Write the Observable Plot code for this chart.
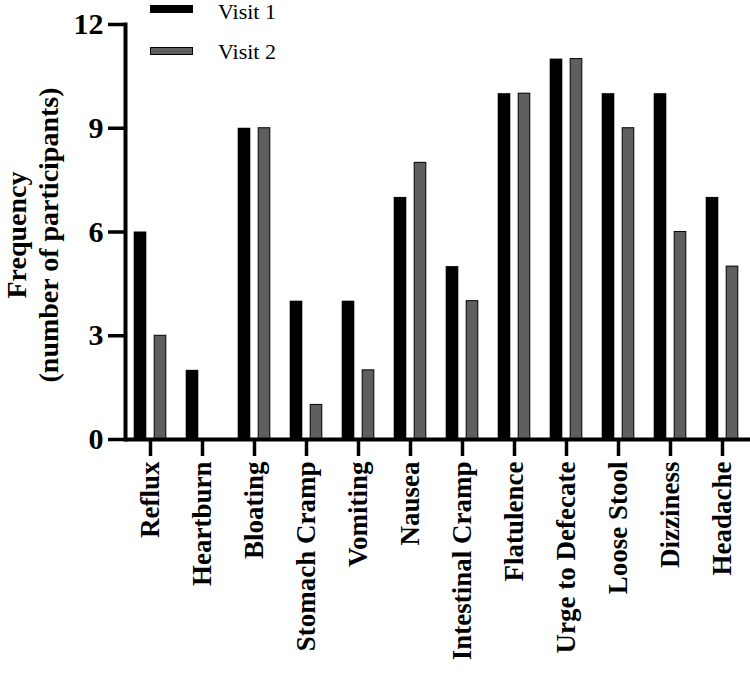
<!DOCTYPE html>
<html>
<head>
<meta charset="utf-8">
<script src="https://cdn.jsdelivr.net/npm/d3@7"></script>
<script src="https://cdn.jsdelivr.net/npm/@observablehq/plot@0.6"></script>
<style>
  html, body { margin: 0; padding: 0; background: white; }
  #wrap { position: relative; width: 750px; height: 673px; }
  .leg { position: absolute; font-family: "Liberation Serif", serif; font-size: 22px; color: #000; line-height: 1.2; white-space: nowrap; }
  .sw { position: absolute; box-sizing: border-box; }
</style>
</head>
<body>
<div id="wrap"></div>
<script>
const categories = ["Reflux", "Heartburn", "Bloating", "Stomach Cramp", "Vomiting", "Nausea",
  "Intestinal Cramp", "Flatulence", "Urge to Defecate", "Loose Stool", "Dizziness", "Headache"];
const visit1 = [6, 2, 9, 4, 4, 7, 5, 10, 11, 10, 10, 7];
const visit2 = [3, 0, 9, 1, 2, 8, 4, 10, 11, 9, 6, 5];
const seriesNames = ["Visit 1", "Visit 2"];
const yTicks = [0, 3, 6, 9, 12];
const yTitle = "Frequency\n(number of participants)";

const rows1 = categories.map((c, i) => ({category: c, value: visit1[i]}));
const rows2 = categories.map((c, i) => ({category: c, value: visit2[i]}));

const FONT = "Liberation Serif, Times New Roman, serif";
const GRAY = "#5f5f5f";

const chart = Plot.plot({
  width: 750,
  height: 673,
  marginLeft: 125,
  marginRight: 0,
  marginTop: 24,
  marginBottom: 234,
  style: {fontFamily: FONT, background: "white"},
  x: {domain: categories, range: [122.1, 750.3], padding: 0, axis: null},
  y: {domain: [0, 12], axis: null},
  marks: [
    Plot.barY(rows1, {x: "category", y: "value", fill: "black", dx: -10, insetLeft: 19.7, insetRight: 19.7}),
    Plot.barY(rows2, {x: "category", y: "value", fill: GRAY, stroke: "black", strokeWidth: 1, dx: 10, insetLeft: 20.2, insetRight: 20.2}),
    Plot.ruleY([0], {stroke: "black", strokeWidth: 4}),
    Plot.frame({anchor: "left", stroke: "black", strokeWidth: 4}),
    Plot.axisY({ticks: yTicks, tickSize: 17, tickPadding: 5, fontSize: 30, fontWeight: "bold", strokeWidth: 3.5, label: null, tickFormat: d => String(d)}),
    Plot.axisX({tickSize: 17, tickPadding: 5, tickRotate: -90, fontSize: 27, fontWeight: "bold", strokeWidth: 3.5, label: null}),
    Plot.text([yTitle], {frameAnchor: "left", rotate: -90, dx: -94, dy: 3, fontSize: 28, fontWeight: "bold", lineHeight: 1.14, textAnchor: "middle", fill: "black"})
  ]
});

const wrap = document.getElementById("wrap");
wrap.appendChild(chart);

// legend overlay
const legendItems = [
  {name: seriesNames[0], fill: "black", border: "none", top: 5, h: 8, textTop: -1},
  {name: seriesNames[1], fill: GRAY, border: "1px solid black", top: 47, h: 8, textTop: 39}
];
legendItems.forEach(it => {
  const sw = document.createElement("div");
  sw.className = "sw";
  sw.style.left = "150px";
  sw.style.top = it.top + "px";
  sw.style.width = "43px";
  sw.style.height = it.h + "px";
  sw.style.background = it.fill;
  sw.style.border = it.border;
  wrap.appendChild(sw);
  const t = document.createElement("div");
  t.className = "leg";
  t.style.left = "218px";
  t.style.top = it.textTop + "px";
  t.textContent = it.name;
  wrap.appendChild(t);
});
</script>
</body>
</html>
